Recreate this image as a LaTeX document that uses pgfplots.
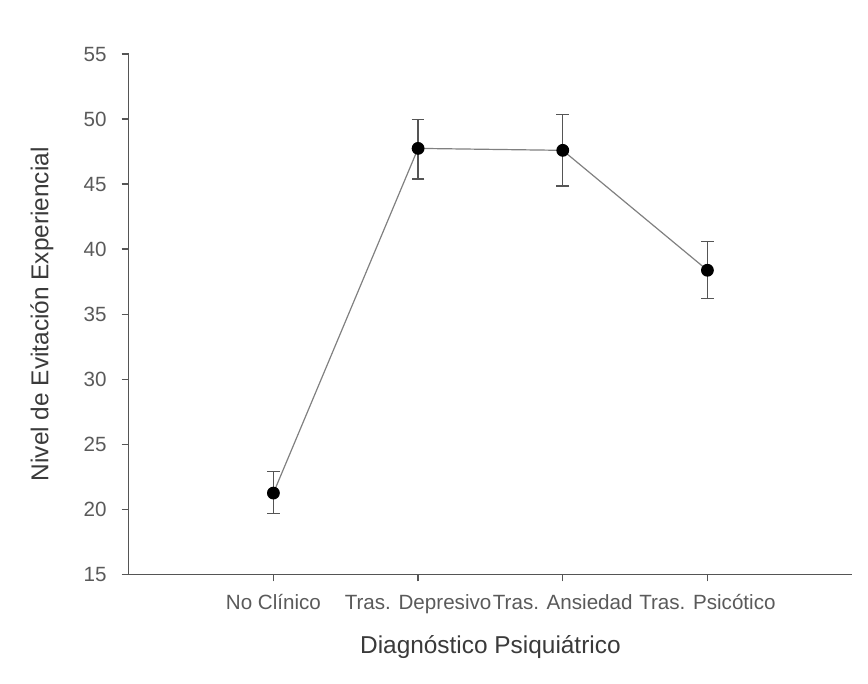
\documentclass[border=0pt]{standalone}
\usepackage{pgfplots}
\pgfplotsset{compat=1.18}
\usepackage{fontspec}
\setmainfont{Liberation Sans}
\definecolor{axgray}{HTML}{555555}
\definecolor{txtgray}{HTML}{3A3A3A}
\definecolor{tickgray}{HTML}{5A5A5A}
\definecolor{linegray}{HTML}{808080}
\begin{document}
\begin{tikzpicture}
\begin{axis}[
  scale only axis,
  width=361.5pt, height=260pt,
  xmin=0, xmax=5, ymin=15, ymax=55,
  axis lines=left,
  axis line style={axgray, line width=0.7pt, -},
  xtick={1,2,3,4},
  xticklabels={No Clínico, Tras. Depresivo, Tras. Ansiedad, Tras. Psicótico},
  ytick={15,20,...,55},
  tick align=outside,
  major tick length=3.5pt,
  tick style={axgray, line width=0.7pt},
  tick label style={font=\fontsize{10.3}{12}\selectfont, text=tickgray},
  /pgf/number format/assume math mode=true,
  xticklabel style={yshift=-3pt},
  yticklabel style={xshift=-4pt},
  xlabel={Diagnóstico Psiquiátrico},
  ylabel={Nivel de Evitación Experiencial},
  label style={font=\fontsize{12.2}{14}\selectfont, text=txtgray},
  xlabel style={at={(axis description cs:0.5,-0.140)}, anchor=center},
  ylabel style={at={(axis description cs:-0.120,0.5)}, anchor=center},
  clip=false,
]
\path (axis description cs:-0.178,-0.210) rectangle (axis description cs:1.022,1.104);
\addplot[
  color=linegray, line width=0.6pt,
  mark=*, mark size=2.9pt,
  mark options={draw=black, fill=black},
  error bars/.cd,
    y dir=both, y explicit,
    error bar style={color=axgray, line width=0.7pt},
    error mark options={rotate=90, mark size=3.2pt, color=axgray, line width=0.7pt},
] table[x=x, y=y, y error plus=ep, y error minus=em] {
x y ep em
1 21.25 1.65 1.55
2 47.75 2.23 2.35
3 47.60 2.76 2.75
4 38.38 2.22 2.18
};
\end{axis}
\end{tikzpicture}
\end{document}
